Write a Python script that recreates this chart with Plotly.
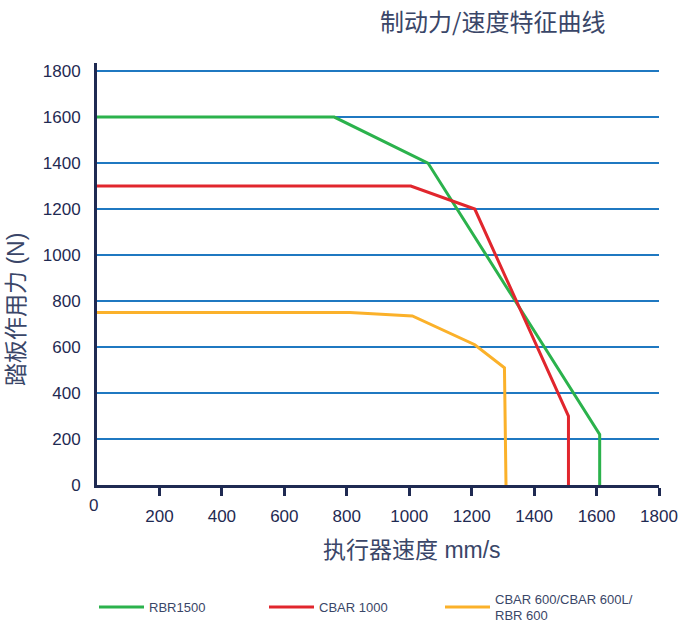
import plotly.graph_objects as go

# ---- data ----
rbr1500_speed = [0, 760, 1060, 1610, 1610]
rbr1500_force = [1600, 1600, 1400, 220, 0]

cbar1000_speed = [0, 1005, 1210, 1510, 1510]
cbar1000_force = [1300, 1300, 1200, 300, 0]

cbar600_speed = [0, 810, 1010, 1210, 1305, 1310]
cbar600_force = [750, 750, 735, 610, 510, 0]

series_names = ["RBR1500", "CBAR 1000", "CBAR 600/CBAR 600L/<br>RBR 600"]
series_colors = ["#2bb24c", "#e1262d", "#fbb12a"]

x_ticks = [200, 400, 600, 800, 1000, 1200, 1400, 1600, 1800]
y_ticks = [0, 200, 400, 600, 800, 1000, 1200, 1400, 1600, 1800]

title_text = "制动力/速度特征曲线"
x_title = "执行器速度 mm/s"
y_title = "踏板作用力 (N)"

# ---- layout geometry ----
W, H = 679, 626
ML, MR, MT, MB = 97, 20, 63, 141
PW, PH = W - ML - MR, H - MT - MB

def px_x(p):
    return (p - ML) / PW

def px_y(p):
    return 1 - (p - MT) / PH

NAVY = "#1f2a52"
TEXT = "#3a4668"
FONT = "Liberation Sans, Arial, Noto Sans CJK SC, sans-serif"

fig = go.Figure()
traces = [
    (rbr1500_speed, rbr1500_force, series_names[0], series_colors[0], "legend"),
    (cbar1000_speed, cbar1000_force, series_names[1], series_colors[1], "legend"),
    (cbar600_speed, cbar600_force, series_names[2], series_colors[2], "legend2"),
]
for xs, ys, name, color, lg in traces:
    fig.add_trace(go.Scatter(x=xs, y=ys, mode="lines", name=name,
                             line=dict(color=color, width=3), legend=lg))

legend_common = dict(
    orientation="h",
    xref="container", yref="container",
    xanchor="left", yanchor="middle",
    font=dict(size=13, color=TEXT),
    itemwidth=45,
    bgcolor="rgba(0,0,0,0)",
)

fig.update_layout(
    width=W, height=H,
    margin=dict(l=ML, r=MR, t=MT, b=MB, autoexpand=False),
    paper_bgcolor="white", plot_bgcolor="white",
    font=dict(family=FONT, color=NAVY, size=17),
    showlegend=True,
    legend=dict(legend_common, x=94 / W, y=1 - 607 / H, entrywidth=110,
                traceorder="normal"),
    legend2=dict(legend_common, x=440 / W, y=1 - 607 / H),
)

fig.update_xaxes(
    range=[0, 1800], tickvals=x_ticks, ticktext=[str(v) for v in x_ticks],
    showgrid=False, zeroline=False, automargin=False,
    showline=True, linecolor=NAVY, linewidth=3,
    ticks="outside", ticklen=8, tickwidth=3, tickcolor=NAVY,
    ticklabelstandoff=6,
    tickfont=dict(size=17, color=NAVY),
)
fig.update_yaxes(
    range=[0, 1835], tickvals=y_ticks, ticktext=[str(v) for v in y_ticks],
    showgrid=True, gridcolor="#1f78c1", gridwidth=1.5, zeroline=False,
    automargin=False,
    showline=True, linecolor=NAVY, linewidth=3,
    ticks="", ticklabelstandoff=10,
    tickfont=dict(size=17, color=NAVY),
)

ann_common = dict(xref="paper", yref="paper", showarrow=False,
                  xanchor="center", yanchor="middle")
fig.add_annotation(text=title_text, x=px_x(492), y=px_y(20),
                   font=dict(size=24, color=TEXT, family="Noto Sans CJK SC"),
                   **ann_common)
fig.add_annotation(text=x_title, x=px_x(412), y=px_y(550),
                   font=dict(size=23, color=TEXT), **ann_common)
fig.add_annotation(text=y_title, x=px_x(16), y=px_y(310), textangle=-90,
                   font=dict(size=23, color=TEXT), **ann_common)
fig.add_annotation(text="0", x=px_x(93), y=px_y(506),
                   font=dict(size=17, color=NAVY), **ann_common)

fig.write_html(
    "out.html",
    config={"displayModeBar": False},
    post_script="document.body.style.margin='0px';document.body.style.overflow='hidden';",
)
